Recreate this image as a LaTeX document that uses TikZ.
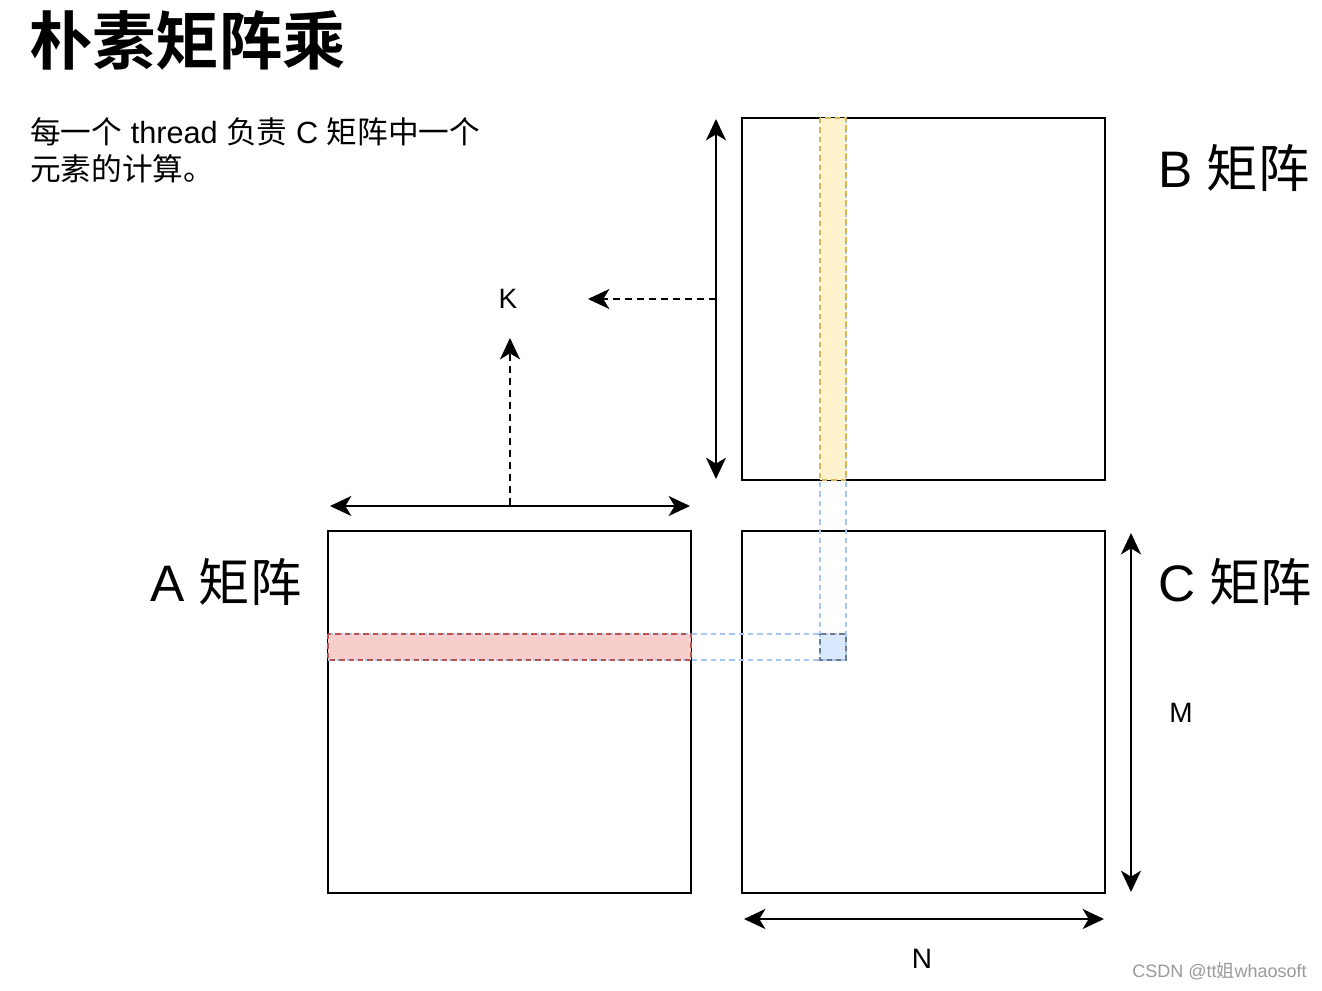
\documentclass[tikz,border=0pt]{standalone}
\usepackage{fontspec}
\setmainfont{Liberation Sans}
\newfontfamily\cjk{Noto Sans CJK SC}
\newfontfamily\cjkb{Noto Sans CJK SC Bold}
\usetikzlibrary{arrows.meta}
\definecolor{yfill}{HTML}{FFF2CC}
\definecolor{ystroke}{HTML}{D6B656}
\definecolor{rfill}{HTML}{F8CECC}
\definecolor{rstroke}{HTML}{B85450}
\definecolor{bfill}{HTML}{DAE8FC}
\definecolor{bstroke}{HTML}{6C7A90}
\definecolor{guide}{HTML}{A4C6F4}
\definecolor{wm}{HTML}{999999}
\tikzset{
  matbox/.style={draw=black, line width=1.9pt, fill=white, inner sep=0pt, minimum width=272.25pt, minimum height=271.5pt},
  tip/.style={-{Stealth[length=16pt,width=15pt,inset=4.5pt]}},
  dbl/.style={{Stealth[length=16pt,width=15pt,inset=4.5pt]}-{Stealth[length=16pt,width=15pt,inset=4.5pt]}, line width=1.7pt},
  dsh/.style={line width=1.7pt, dash pattern=on 5pt off 4pt, tip},
  guideline/.style={draw=guide, line width=1.3pt, dash pattern=on 4pt off 3pt},
  hstroke/.style={line width=1.3pt, dash pattern=on 4pt off 3pt},
  lbl/.style={inner sep=0pt, font=\fontsize{38.5}{40}\selectfont},
  dim/.style={inner sep=0pt, font=\fontsize{21}{24}\selectfont},
}
\begin{document}
\begin{tikzpicture}[x=0.75pt,y=-0.75pt]
\useasboundingbox (0,0) rectangle (1322,990);

% matrices
\node[matbox] (B) at (923.5,299) {};
\node[matbox] (A) at (509.5,712) {};
\node[matbox] (C) at (923.5,712) {};

% highlight fills
\fill[yfill] (820,118) rectangle (846,480);
\fill[rfill] (328,634) rectangle (691,660);
\fill[bfill] (820,634) rectangle (846,660);

% guide lines
\coordinate (g1) at (820,118); \coordinate (g1e) at (820,660);
\coordinate (g2) at (846,118); \coordinate (g2e) at (846,660);
\coordinate (g3) at (328,634); \coordinate (g3e) at (846,634);
\coordinate (g4) at (328,660); \coordinate (g4e) at (846,660);
\draw[guideline] (g1) -- (g1e);
\draw[guideline] (g2) -- (g2e);
\draw[guideline] (g3) -- (g3e);
\draw[guideline] (g4) -- (g4e);

% highlight strokes
\draw[hstroke, draw=ystroke] (820,118) rectangle (846,480);
\draw[hstroke, draw=rstroke] (328,634) rectangle (691,660);
\draw[hstroke, draw=bstroke, dash phase=3.5pt] (820,634) rectangle (846,660);

% dimension arrows
\coordinate (ka1) at (330,506); \coordinate (ka2) at (690,506);
\draw[dbl] (ka1) -- (ka2);
\coordinate (kb1) at (716,119); \coordinate (kb2) at (716,479);
\draw[dbl] (kb1) -- (kb2);
\coordinate (m1) at (1131,533); \coordinate (m2) at (1131,892);
\draw[dbl] (m1) -- (m2);
\coordinate (n1) at (744,919); \coordinate (n2) at (1104,919);
\draw[dbl] (n1) -- (n2);

% K label and dashed pointers
\node[dim] (K) at (508,299) {K};
\coordinate (kas) at (510,505); \coordinate (kae) at (510,338);
\draw[dsh] (kas) -- (kae);
\coordinate (kbs) at (716,299); \coordinate (kbe) at (588,299);
\draw[dsh] (kbs) -- (kbe);

\node[dim] (M) at (1181,713) {M};
\node[dim] (N) at (922,959) {N};

% matrix labels
\node[lbl, anchor=west] (Bl) at (1158,168) {B {\cjk 矩阵}};
\node[lbl, anchor=west] (Al) at (150,582) {A {\cjk 矩阵}};
\node[lbl, anchor=west] (Cl) at (1158,582) {C {\cjk 矩阵}};

% title and description
\node[inner sep=0pt, anchor=west, font=\fontsize{47.5}{50}\selectfont\cjkb] (title) at (29,40) {朴素矩阵乘};
\node[inner sep=0pt, anchor=north west, align=left, font=\fontsize{23}{28}\selectfont] (desc) at (30,117)
  {{\cjk 每一个} thread {\cjk 负责} C {\cjk 矩阵中一个}\\{\cjk 元素的计算。}};

% watermark
\node[inner sep=0pt, anchor=east, text=wm, font=\fontsize{13.5}{16}\selectfont] (wmk) at (1307,971) {CSDN @tt{\cjk 姐}whaosoft};
\end{tikzpicture}
\end{document}
